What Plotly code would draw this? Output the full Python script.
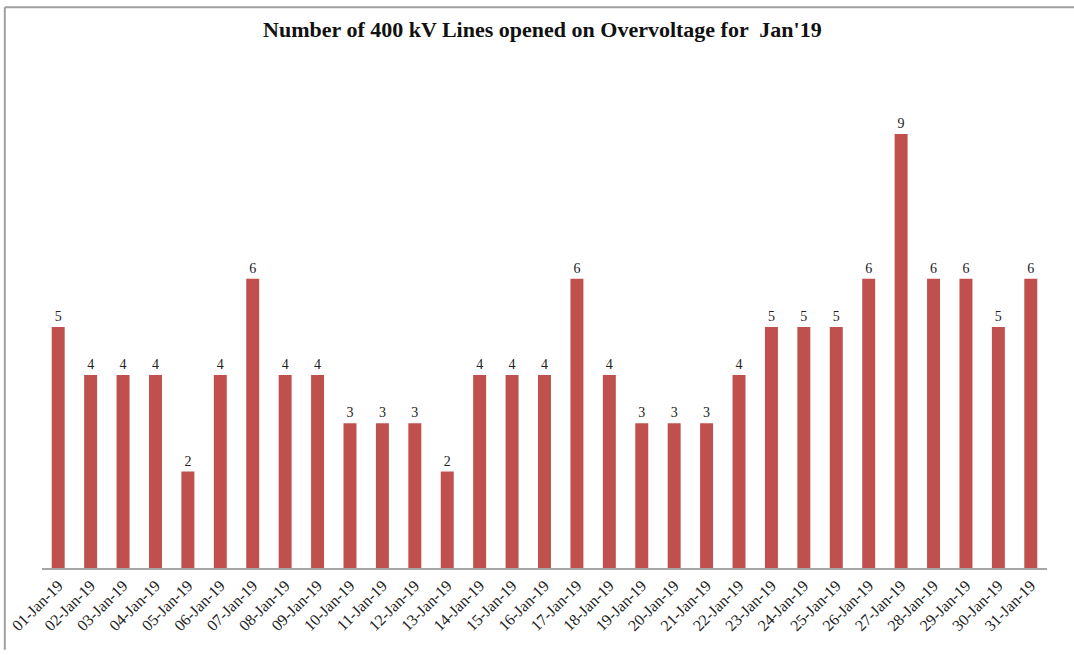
import plotly.graph_objects as go

dates = [f"{d:02d}-Jan-19" for d in range(1, 32)]
counts = [5, 4, 4, 4, 2, 4, 6, 4, 4, 3, 3, 3, 2, 4, 4, 4, 6, 4, 3, 3, 3, 4, 5, 5, 5, 6, 9, 6, 6, 5, 6]
title_text = "Number of 400 kV Lines opened on Overvoltage for  Jan'19"

fig = go.Figure()
fig.add_trace(go.Bar(
    x=dates, y=counts,
    marker=dict(color="#C0504D", line=dict(width=0)),
    text=[str(v) for v in counts],
    textposition="outside",
    cliponaxis=False,
    textfont=dict(family="Liberation Serif", size=14, color="#222"),
))

fig.update_layout(
    width=1074, height=655,
    margin=dict(l=42, r=27, t=40, b=87),
    paper_bgcolor="white", plot_bgcolor="white",
    bargap=0.6,
    showlegend=False,
    title=dict(text=f"<b>{title_text}</b>", x=0.505, xanchor="center", y=0.955, yanchor="middle",
               font=dict(family="Liberation Serif", size=22, color="#111")),
    xaxis=dict(showline=True, linecolor="#A6A6A6", linewidth=2, tickangle=-45,
               tickfont=dict(family="Liberation Serif", size=16, color="#222"),
               ticks="", showgrid=False, automargin=False),
    yaxis=dict(range=[0, 10.95], visible=False, showgrid=False),
)
fig.update_traces(textangle=0)

# frame lines (left and top)
fig.add_shape(type="line", xref="paper", yref="paper", x0=-0.037, x1=1.03, y0=1.062, y1=1.062,
              line=dict(color="#A0A0A0", width=2))
fig.add_shape(type="line", xref="paper", yref="paper", x0=-0.037, x1=-0.037, y0=1.062, y1=-0.155,
              line=dict(color="#A0A0A0", width=2))

fig.write_html("out.html", config={"displayModeBar": False},
               post_script="document.body.style.margin='0';document.body.style.padding='0';")
